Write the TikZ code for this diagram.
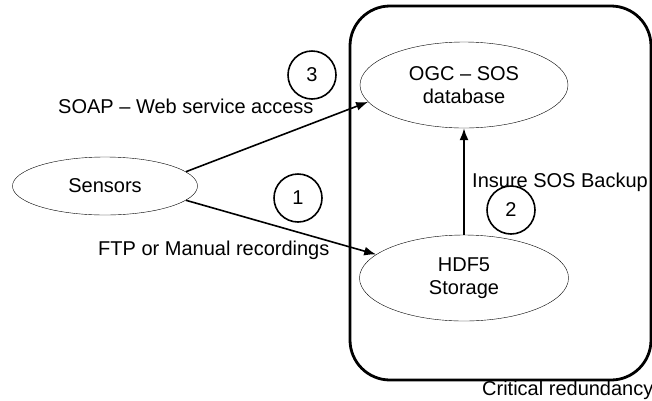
\documentclass[tikz,border=0pt]{standalone}
\usepackage{fontspec}
\setmainfont{Liberation Sans}
\usepackage{tikz}
\usetikzlibrary{arrows,arrows.meta,shapes}

\begin{document}
\begin{tikzpicture}[x=1pt, y=-1pt, inner sep=0pt, font=\fontsize{20}{24}\selectfont]
    \tikzstyle{store}=[ellipse, draw=black, thin, align=center, text=black]
    \tikzstyle{stepno}=[circle, draw=black, line width=1.6pt, minimum size=48pt]
    \tikzstyle{flow}=[-{Latex[length=12pt,width=9pt]}, line width=1.6pt]
    \tikzstyle{lbl}=[anchor=base west, text=black]

    \useasboundingbox (0,0) rectangle (652,400);

    % the redundancy frame
    \draw[line width=2.8pt, rounded corners=40pt] (350,6) rectangle (651,380);

    \node[store, minimum width=185pt, minimum height=58pt] (Sensors) at (105,186) {Sensors};
    \node[store, minimum width=208pt, minimum height=86pt] (OGC) at (464,85) {OGC -- SOS\\[-1pt]database};
    \node[store, minimum width=209pt, minimum height=86pt] (HDF) at (464,278) {HDF5\\[-1pt]Storage};

    \node[stepno] (N3) at (312,75) {3};
    \node[stepno] (N1) at (298,198) {1};
    \node[stepno] (N2) at (511,210) {2};

    \node[lbl] (Soap) at (58,113) {SOAP -- Web service access};
    \node[lbl] (Ftp) at (98,255) {FTP or Manual recordings};
    \node[lbl] (Backup) at (472,187) {Insure SOS Backup};
    \node[lbl] (Crit) at (482,395) {Critical redundancy};

    % les fleches
    \draw[flow] (Sensors.10) to (OGC.190);
    \draw[flow] (Sensors.-10) to (HDF.165);
    \draw[flow] (HDF.north) to (OGC.south);
\end{tikzpicture}
\end{document}
